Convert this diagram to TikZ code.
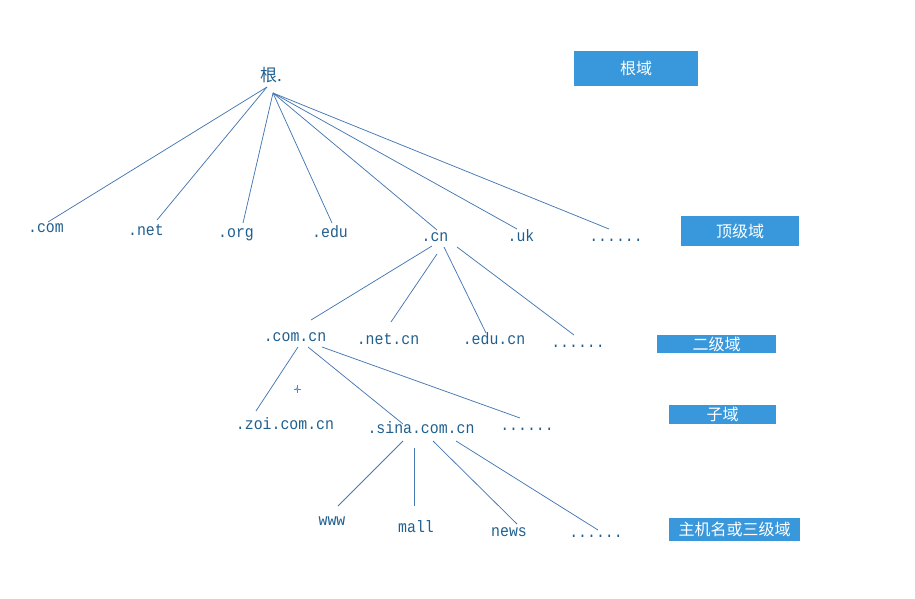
\documentclass[tikz,border=0pt]{standalone}
\usepackage{fontspec}
\newfontfamily\cjk{Noto Sans CJK SC}
\newfontfamily\labelfont[FakeStretch=0.9]{Liberation Mono}
\usetikzlibrary{positioning}
\definecolor{linkblue}{HTML}{4577B2}
\definecolor{textblue}{HTML}{1F5F8F}
\definecolor{boxblue}{HTML}{3898DB}
\definecolor{cursorblue}{HTML}{4A86E8}

\begin{document}
\begin{tikzpicture}[x=1pt,y=-1pt,
    dnsname/.style={anchor=base, inner sep=1pt, text=textblue,
      font=\labelfont\fontsize{16.5}{16.5}\selectfont},
    link/.style={linkblue, line width=0.75pt},
    levelbox/.style={fill=boxblue, text=white, inner sep=0pt,
      font=\cjk\fontsize{16}{16}\selectfont}]
        \useasboundingbox (0,0) rectangle (915,599);
        % Root
        \node[dnsname, font=\cjk\fontsize{17}{17}\selectfont] (root) at (271,82) {根.};
        \coordinate (rootl) at (267,87);
        \coordinate (rootr) at (273,93);
        % Top level domains
        \node[dnsname] (com) at (46,232) {.com};
        \node[dnsname] (net) at (146,235) {.net};
        \node[dnsname] (org) at (236,237) {.org};
        \node[dnsname] (edu) at (330,237) {.edu};
        \node[dnsname] (cn) at (435,241) {.cn};
        \node[dnsname] (uk) at (521,241) {.uk};
        \node[dnsname] (topmore) at (616,241) {......};
        % Second level domains
        \node[dnsname] (comcn) at (295,341) {.com.cn};
        \node[dnsname] (netcn) at (388,344) {.net.cn};
        \node[dnsname] (educn) at (494,344) {.edu.cn};
        \node[dnsname] (secmore) at (578,347) {......};
        % Sub domains
        \node[dnsname] (zoi) at (285,429) {.zoi.com.cn};
        \node[dnsname] (sina) at (421,433) {.sina.com.cn};
        \node[dnsname] (submore) at (527,430) {......};
        % Host names
        \node[dnsname] (www) at (332,525) {www};
        \node[dnsname] (mall) at (416,532) {mall};
        \node[dnsname] (news) at (509,536) {news};
        \node[dnsname] (hostmore) at (596,537) {......};
        % Root to top level
        \draw[link] (rootl) -- ([shift={(2,-10)}]com.base);
        \draw[link] (rootl) -- ([shift={(11,-15)}]net.base);
        \draw[link] (rootr) -- ([shift={(7,-14)}]org.base);
        \draw[link] (rootr) -- ([shift={(2,-14)}]edu.base);
        \draw[link] (rootr) -- ([shift={(2,-11)}]cn.base);
        \draw[link] (rootr) -- ([shift={(-4,-12)}]uk.base);
        \draw[link] (rootr) -- ([shift={(-7,-12)}]topmore.base);
        % .cn to second level
        \draw[link] ([shift={(-3,5)}]cn.base) -- ([shift={(16,-21)}]comcn.base);
        \draw[link] ([shift={(2,13)}]cn.base) -- ([shift={(3,-22)}]netcn.base);
        \draw[link] ([shift={(9,6)}]cn.base) -- ([shift={(-8,-11)}]educn.base);
        \draw[link] ([shift={(22,6)}]cn.base) -- ([shift={(-4,-12)}]secmore.base);
        % .com.cn to sub domains
        \draw[link] ([shift={(3,6)}]comcn.base) -- ([shift={(-29,-18)}]zoi.base);
        \draw[link] ([shift={(13,6)}]comcn.base) -- ([shift={(-18,-9)}]sina.base);
        \draw[link] ([shift={(27,6)}]comcn.base) -- ([shift={(-7,-12)}]submore.base);
        % .sina.com.cn to host names
        \draw[link] ([shift={(-18,8)}]sina.base) -- ([shift={(6,-19)}]www.base);
        \draw[link] ([shift={(-7,15)}]sina.base) -- ([shift={(-2,-26)}]mall.base);
        \draw[link] ([shift={(12,8)}]sina.base) -- ([shift={(8,-12)}]news.base);
        \draw[link] ([shift={(35,8)}]sina.base) -- ([shift={(2,-7)}]hostmore.base);
        % Level boxes
        \node[levelbox, minimum width=124pt, minimum height=35pt] (rootbox) at (636,68.5) {根域};
        \node[levelbox, minimum width=118pt, minimum height=30pt] (topbox) at (740,231) {顶级域};
        \node[levelbox, minimum width=119pt, minimum height=18pt] (secbox) at (716.5,344) {二级域};
        \node[levelbox, minimum width=107pt, minimum height=19pt] (subbox) at (722.5,414.5) {子域};
        \node[levelbox, minimum width=131pt, minimum height=23pt] (hostbox) at (734.5,529.5) {主机名或三级域};
        % Cursor
        \draw[cursorblue, line width=0.8pt] (293.5,389) -- (300.5,389) (297,385) -- (297,393);
        \filldraw[cursorblue, fill=white, line width=0.6pt] (297,389) circle (1.2);
      \end{tikzpicture}
\end{document}
